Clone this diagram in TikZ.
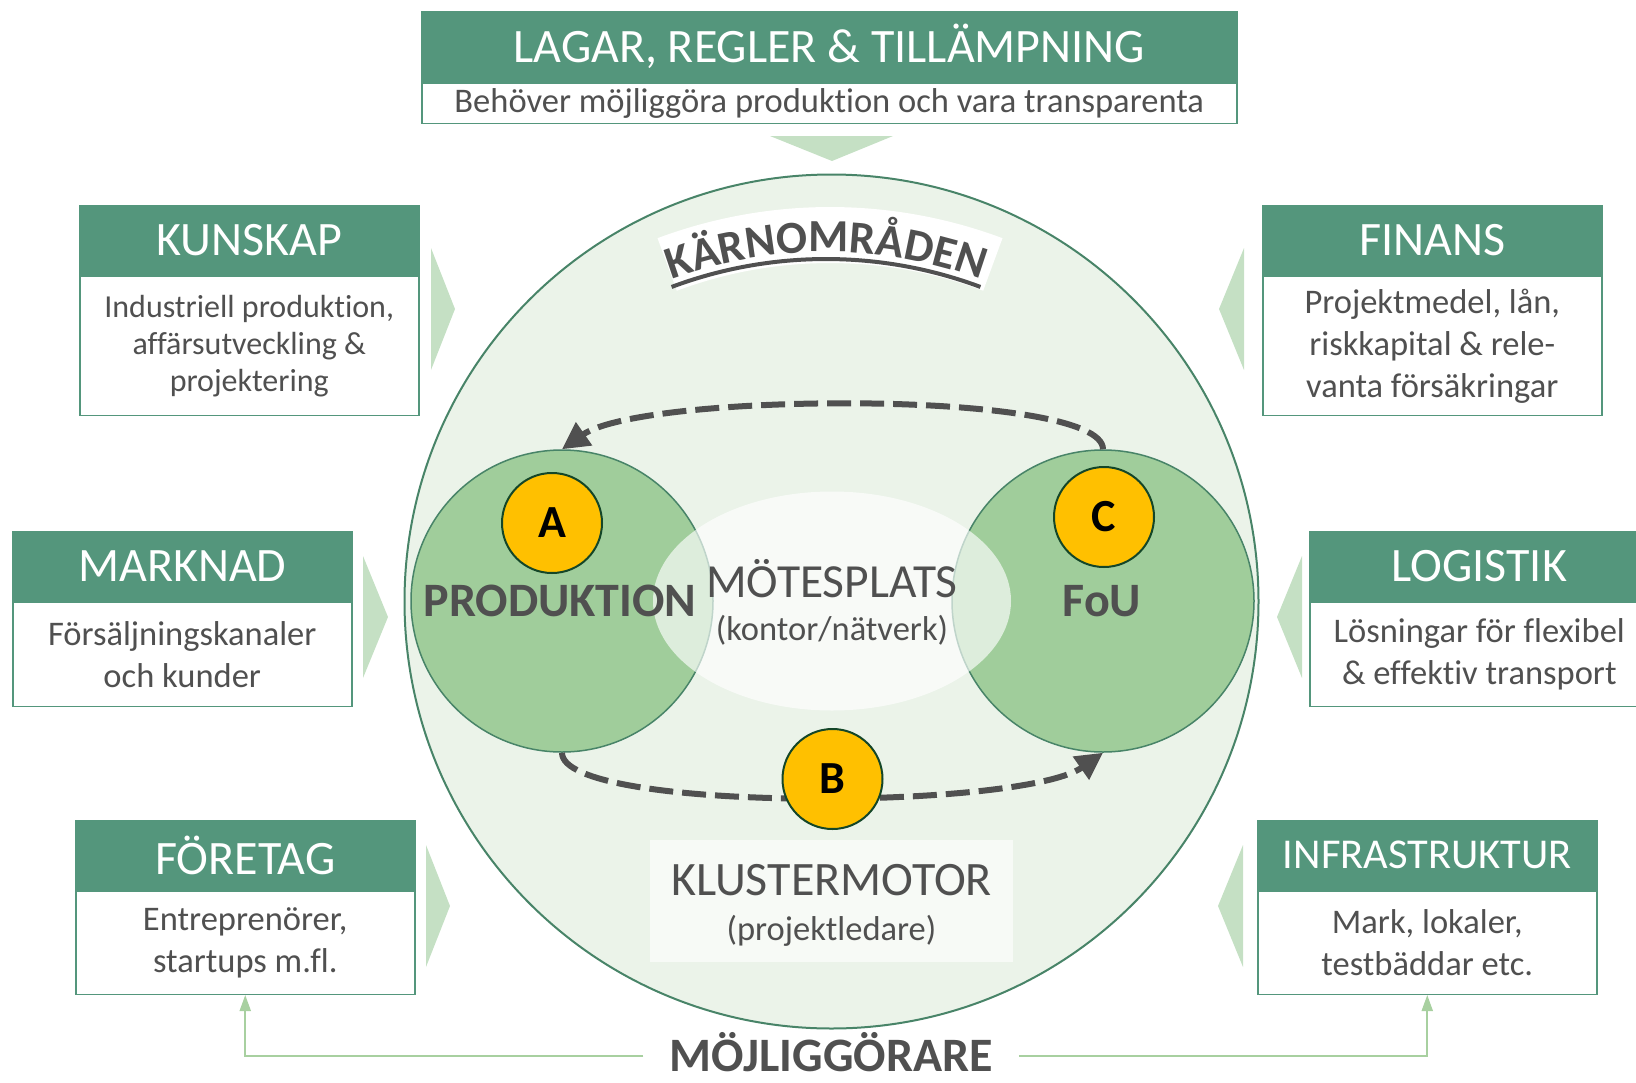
\documentclass[tikz,border=0pt]{standalone}
\usepackage{fontspec}
\setmainfont{Carlito}[Ligatures=NoCommon]
\usetikzlibrary{positioning,arrows.meta,decorations.text,shapes.geometric}

\definecolor{headgreen}{RGB}{84,150,124}
\definecolor{rimgreen}{RGB}{72,132,104}
\definecolor{coregreen}{RGB}{235,243,233}
\definecolor{lobegreen}{RGB}{160,205,155}
\definecolor{pale}{RGB}{197,224,196}
\definecolor{textgray}{RGB}{80,80,80}
\definecolor{gold}{RGB}{255,192,0}
\definecolor{dotrim}{RGB}{20,70,40}
\definecolor{linkgreen}{RGB}{168,208,160}

\tikzset{
	boxhead/.style={fill=headgreen, draw=headgreen, line width=1.5pt, text=white, minimum width=339pt, minimum height=69pt, inner sep=0pt, font=\fontsize{48}{54}\selectfont},
	boxbody/.style={fill=white, draw=headgreen, line width=1.5pt, text=textgray, minimum width=339pt, inner sep=0pt, align=center, font=\fontsize{34.5}{42}\selectfont},
	chevron/.style={fill=pale},
	lobe/.style={circle, fill=lobegreen, draw=rimgreen, line width=1.5pt, minimum size=302pt, inner sep=0pt},
	badge/.style={circle, fill=gold, draw=dotrim, line width=2pt, minimum size=100pt, inner sep=0pt, font=\fontsize{46}{46}\selectfont\bfseries},
	flow/.style={draw=textgray, line width=6pt, dash pattern=on 24pt off 9pt, -{Triangle[length=27pt,width=27pt]}},
	link/.style={draw=linkgreen, line width=2pt, -{Triangle[length=16pt,width=11pt]}},
	label/.style={text=textgray, font=\fontsize{48}{48}\selectfont\bfseries}
}

\begin{document}
\begin{tikzpicture}[x=1pt,y=1pt]
	\useasboundingbox (0,0) rectangle (1636,-1082);
	\clip (0,0) rectangle (1636,-1082); % LOGISTIK runs off the page

	% chevrons
	\fill[chevron] (770,-136) -- (893,-136) -- (832,-161) -- cycle;
	\foreach \x/\y/\d in {431/309/24, 363/617/25, 426/906/24, 1244/309/-25, 1302/617/-25, 1243/906/-25}{\fill[chevron] (\x,-\y+61) -- (\x+\d,-\y) -- (\x,-\y-61) -- cycle;}

	% boxes round the core
	\node (lagar) [boxhead, minimum width=815pt, minimum height=70pt, anchor=north west] at (421,-11) {LAGAR, REGLER \& TILLÄMPNING};
	\node (lagarbody) [boxbody, minimum width=815pt, minimum height=40pt, below=0pt of lagar] {Behöver möjliggöra produktion och vara transparenta};

	\node (kunskap) [boxhead, anchor=north west] at (79,-205) {KUNSKAP};
	\node (kunskapbody) [boxbody, minimum height=139pt, below=0pt of kunskap, font=\fontsize{32}{37}\selectfont] {Industriell produktion,\\ affärsutveckling \&\\ projektering};

	\node (finans) [boxhead, anchor=north west] at (1262,-205) {FINANS};
	\node (finansbody) [boxbody, minimum height=139pt, below=0pt of finans] {Projektmedel, lån,\\ riskkapital \& rele-\\ vanta försäkringar};

	\node (marknad) [boxhead, anchor=north west] at (12,-531) {MARKNAD};
	\node (marknadbody) [boxbody, minimum height=104pt, below=0pt of marknad] {Försäljningskanaler\\ och kunder};

	\node (logistik) [boxhead, anchor=north west] at (1309,-531) {LOGISTIK};
	\node (logistikbody) [boxbody, minimum height=104pt, below=0pt of logistik] {Lösningar för flexibel\\ \& effektiv transport};

	\node (foretag) [boxhead, anchor=north west] at (75,-820) {FÖRETAG};
	\node (foretagbody) [boxbody, minimum height=103pt, below=0pt of foretag] {Entreprenörer,\\ startups m.fl.};

	\node (infra) [boxhead, anchor=north west, font=\fontsize{42.5}{48}\selectfont] at (1257,-820) {INFRASTRUKTUR};
	\node (infrabody) [boxbody, minimum height=103pt, below=0pt of infra] {Mark, lokaler,\\ testbäddar etc.};

	% core
	\node (core) [circle, fill=coregreen, draw=rimgreen, line width=2pt, minimum size=854pt, inner sep=0pt] at (831.5,-601.5) {};
	\draw[white, line width=56pt] (830,-700) ++(110.5:465) arc[start angle=110.5, end angle=69.5, radius=465];
	\path[decorate, decoration={text along path, text align=center, text={|\fontsize{46}{46}\selectfont\bfseries\color{textgray}|KÄRNOMRÅDEN}}] (826,-700) ++(112:448) arc[start angle=112, end angle=68, radius=448];
	\draw[textgray, line width=4pt] (826,-700) ++(110.5:441) arc[start angle=110.5, end angle=69.5, radius=441];

	\node (prod) [lobe] at (562,-601) {};
	\node (fou) [lobe] at (1103,-601) {};
	\node (meet) [ellipse, fill=white, fill opacity=0.65, minimum width=358pt, minimum height=219pt, inner sep=0pt] at (832,-601) {};

	\node (motor) [fill=white, fill opacity=0.6, minimum width=363pt, minimum height=122pt, inner sep=0pt] at (831.5,-901) {};
	\node (motortitle) [anchor=base, text=textgray, font=\fontsize{48}{48}\selectfont] at (831.5,-895) {KLUSTERMOTOR};
	\node (motorsub) [anchor=base, text=textgray, font=\fontsize{34.5}{34.5}\selectfont] at (831.5,-940) {(projektledare)};

	\draw[flow] (fou.north) to[out=90, in=35, out distance=60pt, in distance=100pt] (prod.north);
	\draw[flow] (prod.south) to[out=-90, in=-145, out distance=60pt, in distance=100pt] (fou.south);

	\node (a) [badge] at (552,-523) {A};
	\node (b) [badge] at (832.5,-779) {B};
	\node (c) [badge] at (1104,-517) {C};

	\node (prodlabel) [label] at (560,-601) {PRODUKTION};
	\node (foulabel) [label] at (1102,-601) {FoU};
	\node (meettitle) [anchor=base, text=textgray, font=\fontsize{47.5}{47.5}\selectfont] at (832,-597) {MÖTESPLATS};
	\node (meetsub) [anchor=base, text=textgray, font=\fontsize{34.5}{34.5}\selectfont] at (832,-640) {(kontor/nätverk)};

	% enablers
	\node (enabler) [anchor=base, text=textgray, font=\fontsize{48}{48}\selectfont\bfseries, inner xsep=26pt, inner ysep=0pt, text height=30pt, text depth=0pt] at (831,-1071) {MÖJLIGGÖRARE};
	\draw[link] (enabler.west) -| (foretagbody.south);
	\draw[link] (enabler.east) -| (infrabody.south);
\end{tikzpicture}
\end{document}
